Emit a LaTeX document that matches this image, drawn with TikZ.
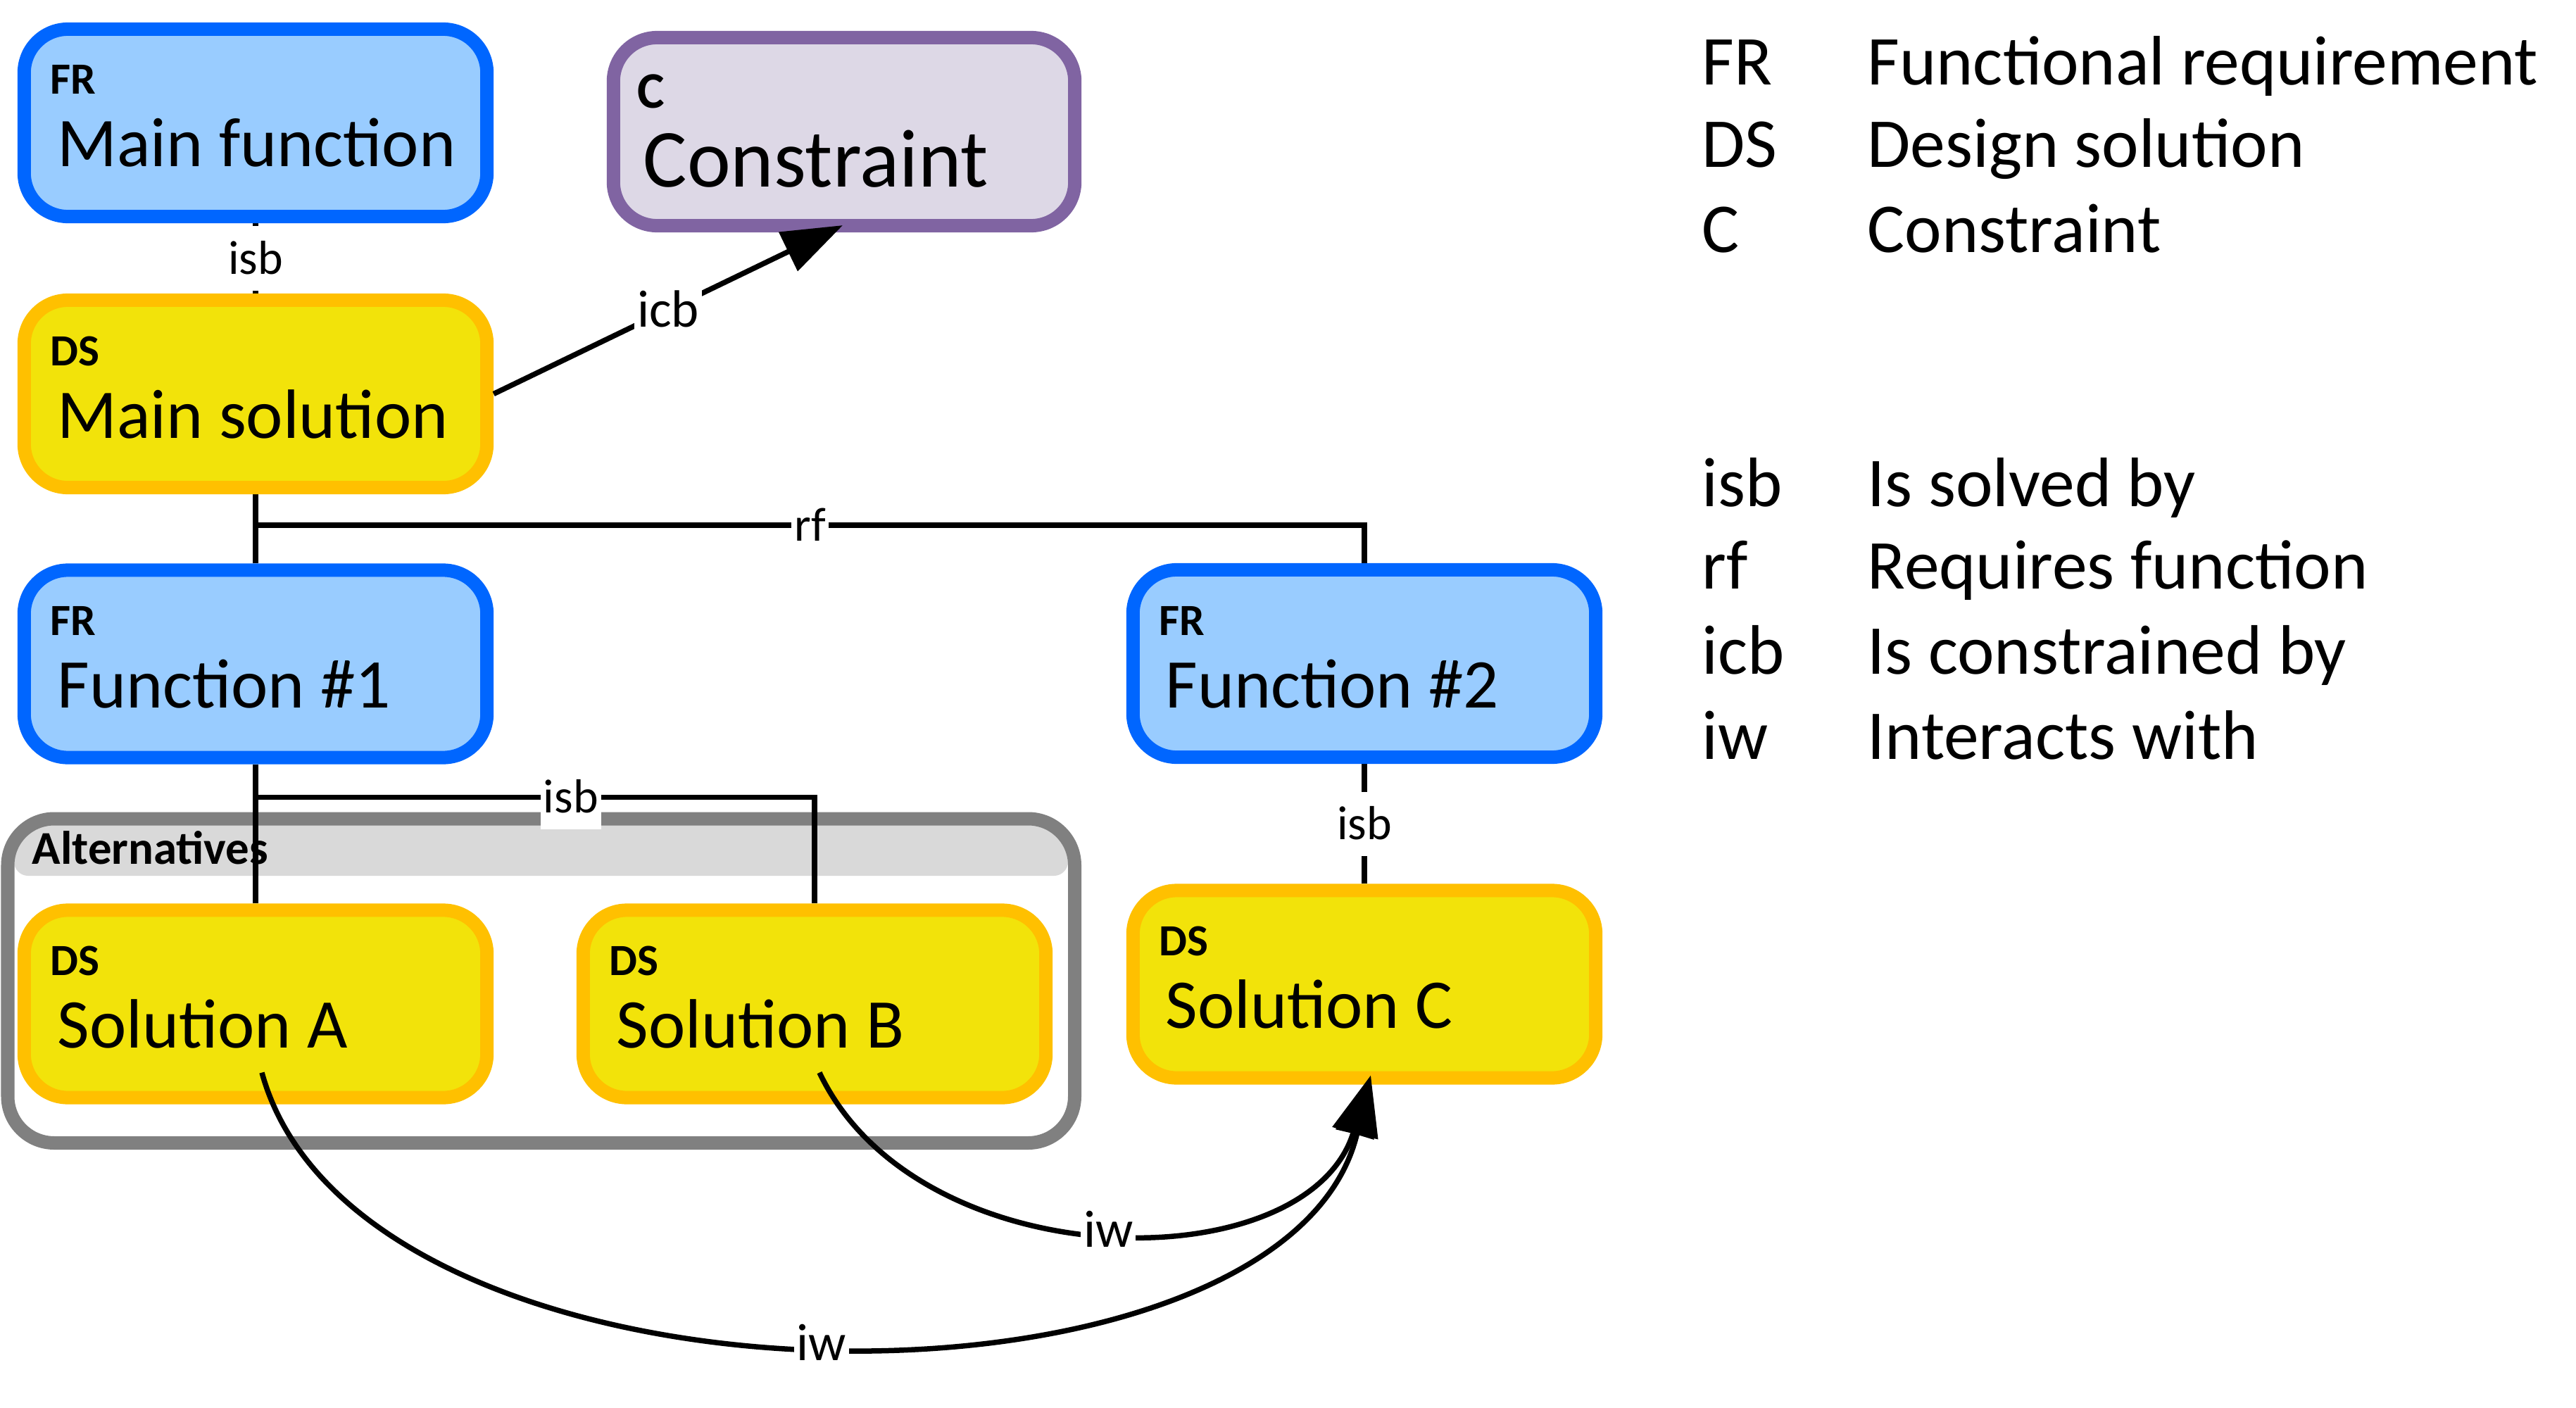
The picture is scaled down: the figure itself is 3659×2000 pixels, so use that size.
\documentclass[tikz,border=0pt]{standalone}
\usepackage{fontspec}
\setmainfont{Carlito}
\usetikzlibrary{arrows.meta,calc,backgrounds}
\definecolor{frfill}{HTML}{99CCFF}
\definecolor{frdraw}{HTML}{0066FF}
\definecolor{dsfill}{HTML}{F2E30A}
\definecolor{dsdraw}{HTML}{FFC000}
\definecolor{cfill}{HTML}{DDD8E6}
\definecolor{cdraw}{HTML}{8064A2}
\definecolor{gdraw}{HTML}{808080}
\definecolor{ghdr}{HTML}{D9D9D9}
\begin{document}
\begin{tikzpicture}[x=0.01cm,y=-0.01cm,
 box/.style={rounded corners=0.62cm, line width=0.19cm, minimum width=6.57cm, minimum height=2.66cm, inner sep=0pt},
 frbox/.style={box, fill=frfill, draw=frdraw},
 dsbox/.style={box, fill=dsfill, draw=dsdraw},
 cbox/.style={box, fill=cfill, draw=cdraw, minimum width=6.55cm, minimum height=2.67cm},
 boxtag/.style={anchor=base west, inner sep=0pt, font=\fontsize{18pt}{21pt}\selectfont\bfseries},
 boxtitle/.style={anchor=base west, inner sep=0pt, font=\fontsize{28.2pt}{33pt}\selectfont},
 conn/.style={line width=0.075cm, draw=black},
 elabel/.style={fill=white, inner xsep=0.04cm, inner ysep=0pt, font=\fontsize{19.3pt}{23pt}\selectfont, text height=19.3pt, text depth=6.6pt},
 biglabel/.style={elabel, font=\fontsize{21.2pt}{25pt}\selectfont, text height=21.2pt, text depth=7.2pt},
 legtext/.style={anchor=base west, inner sep=0pt, font=\fontsize{28.3pt}{34pt}\selectfont},
 bigarrow/.style={-{Triangle[length=0.86cm,width=0.6cm]}}
]
\useasboundingbox (0,0) rectangle (3659,2000);

% group
\begin{scope}[on background layer]
  \fill[white] (0,0) rectangle (3659,2000);
  \begin{scope}
    \clip[rounded corners=0.56cm] (20,1172) rectangle (1517,1614);
    \fill[ghdr, rounded corners=0.2cm] (20,1100) rectangle (1517,1244);
  \end{scope}
  \draw[gdraw, line width=0.19cm, rounded corners=0.66cm] (11,1163) rectangle (1526.5,1623.5);
  \node[boxtag, font=\fontsize{19pt}{22pt}\selectfont\bfseries] (alt) at (45,1227) {Alternatives};
\end{scope}

% boxes
\node[frbox] (mf) at (363,174.5) {};
\node[boxtag] (mftag) at (71,134) {FR};
\node[boxtitle] (mftxt) at (81,237) {Main function};

\node[cbox] (con) at (1199,187) {};
\node[boxtag, font=\fontsize{20.7pt}{24pt}\selectfont\bfseries] (contag) at (905,154) {C};
\node[boxtitle, font=\fontsize{33.3pt}{40pt}\selectfont] (contxt) at (913,265) {Constraint};

\node[dsbox] (ms) at (363,559.5) {};
\node[boxtag] (mstag) at (71,519) {DS};
\node[boxtitle] (mstxt) at (81,622) {Main solution};

\node[frbox] (f1) at (363,943) {};
\node[boxtag] (f1tag) at (71,902) {FR};
\node[boxtitle] (f1txt) at (81,1005) {Function \#1};

\node[frbox] (f2) at (1938,942.5) {};
\node[boxtag] (f2tag) at (1646,902) {FR};
\node[boxtitle] (f2txt) at (1655,1005) {Function \#2};

\node[dsbox] (sa) at (363,1426) {};
\node[boxtag] (satag) at (71,1385) {DS};
\node[boxtitle] (satxt) at (81,1488) {Solution A};

\node[dsbox] (sb) at (1157,1426) {};
\node[boxtag] (sbtag) at (865,1385) {DS};
\node[boxtitle] (sbtxt) at (875,1488) {Solution B};

\node[dsbox] (sc) at (1938,1398) {};
\node[boxtag] (sctag) at (1646,1357) {DS};
\node[boxtitle] (sctxt) at (1655,1460) {Solution C};

% straight connectors behind boxes
\begin{scope}[on background layer]
  \draw[conn] (mf.south) -- node[elabel] (l1) {isb} (ms.north);
  \draw[conn] (ms.south) -- (f1.north);
  \coordinate (rfj) at ($(ms.south)+(0,44)$);
  \draw[conn] (rfj) -| node[elabel, pos=0.25] (l2) {rf} (f2.north);
  \draw[conn] (f1.south) -- (sa.north);
  \coordinate (isbj) at ($(f1.south)+(0,47)$);
  \draw[conn] (isbj) -| node[elabel, pos=0.282] (l3) {isb} (sb.north);
  \draw[conn] (f2.south) -- node[elabel] (l4) {isb} (sc.north);
\end{scope}

% arrows on top
\coordinate (icbend) at ($(con.south)+(-2,-10)$);
\draw[conn, bigarrow] (ms.east) -- node[biglabel] (l5) {icb} (icbend);

\coordinate (sastart) at ($(sa.south)+(9,-45)$);
\coordinate (sbstart) at ($(sb.south)+(7,-45)$);
\coordinate (scend) at ($(sc.south)+(9,-13)$);
\draw[conn, bigarrow] (sastart) .. controls +(140,510) and +(-120,510) .. node[biglabel] (l6) {iw} (scend);
\draw[conn, bigarrow] (sbstart) .. controls +(140,295) and +(-90,295) .. node[biglabel] (l7) {iw} (scend);

% legend
\node[legtext] (k1) at (2417,121) {FR};
\node[legtext] (v1) at (2652,121) {Functional requirement};
\node[legtext] (k2) at (2417,238) {DS};
\node[legtext] (v2) at (2652,238) {Design solution};
\node[legtext] (k3) at (2417,359) {C};
\node[legtext] (v3) at (2652,359) {Constraint};
\node[legtext] (k4) at (2417,719) {isb};
\node[legtext] (v4) at (2652,719) {Is solved by};
\node[legtext] (k5) at (2417,836) {rf};
\node[legtext] (v5) at (2652,836) {Requires function};
\node[legtext] (k6) at (2417,957) {icb};
\node[legtext] (v6) at (2652,957) {Is constrained by};
\node[legtext] (k7) at (2417,1078) {iw};
\node[legtext] (v7) at (2652,1078) {Interacts with};
\end{tikzpicture}
\end{document}
